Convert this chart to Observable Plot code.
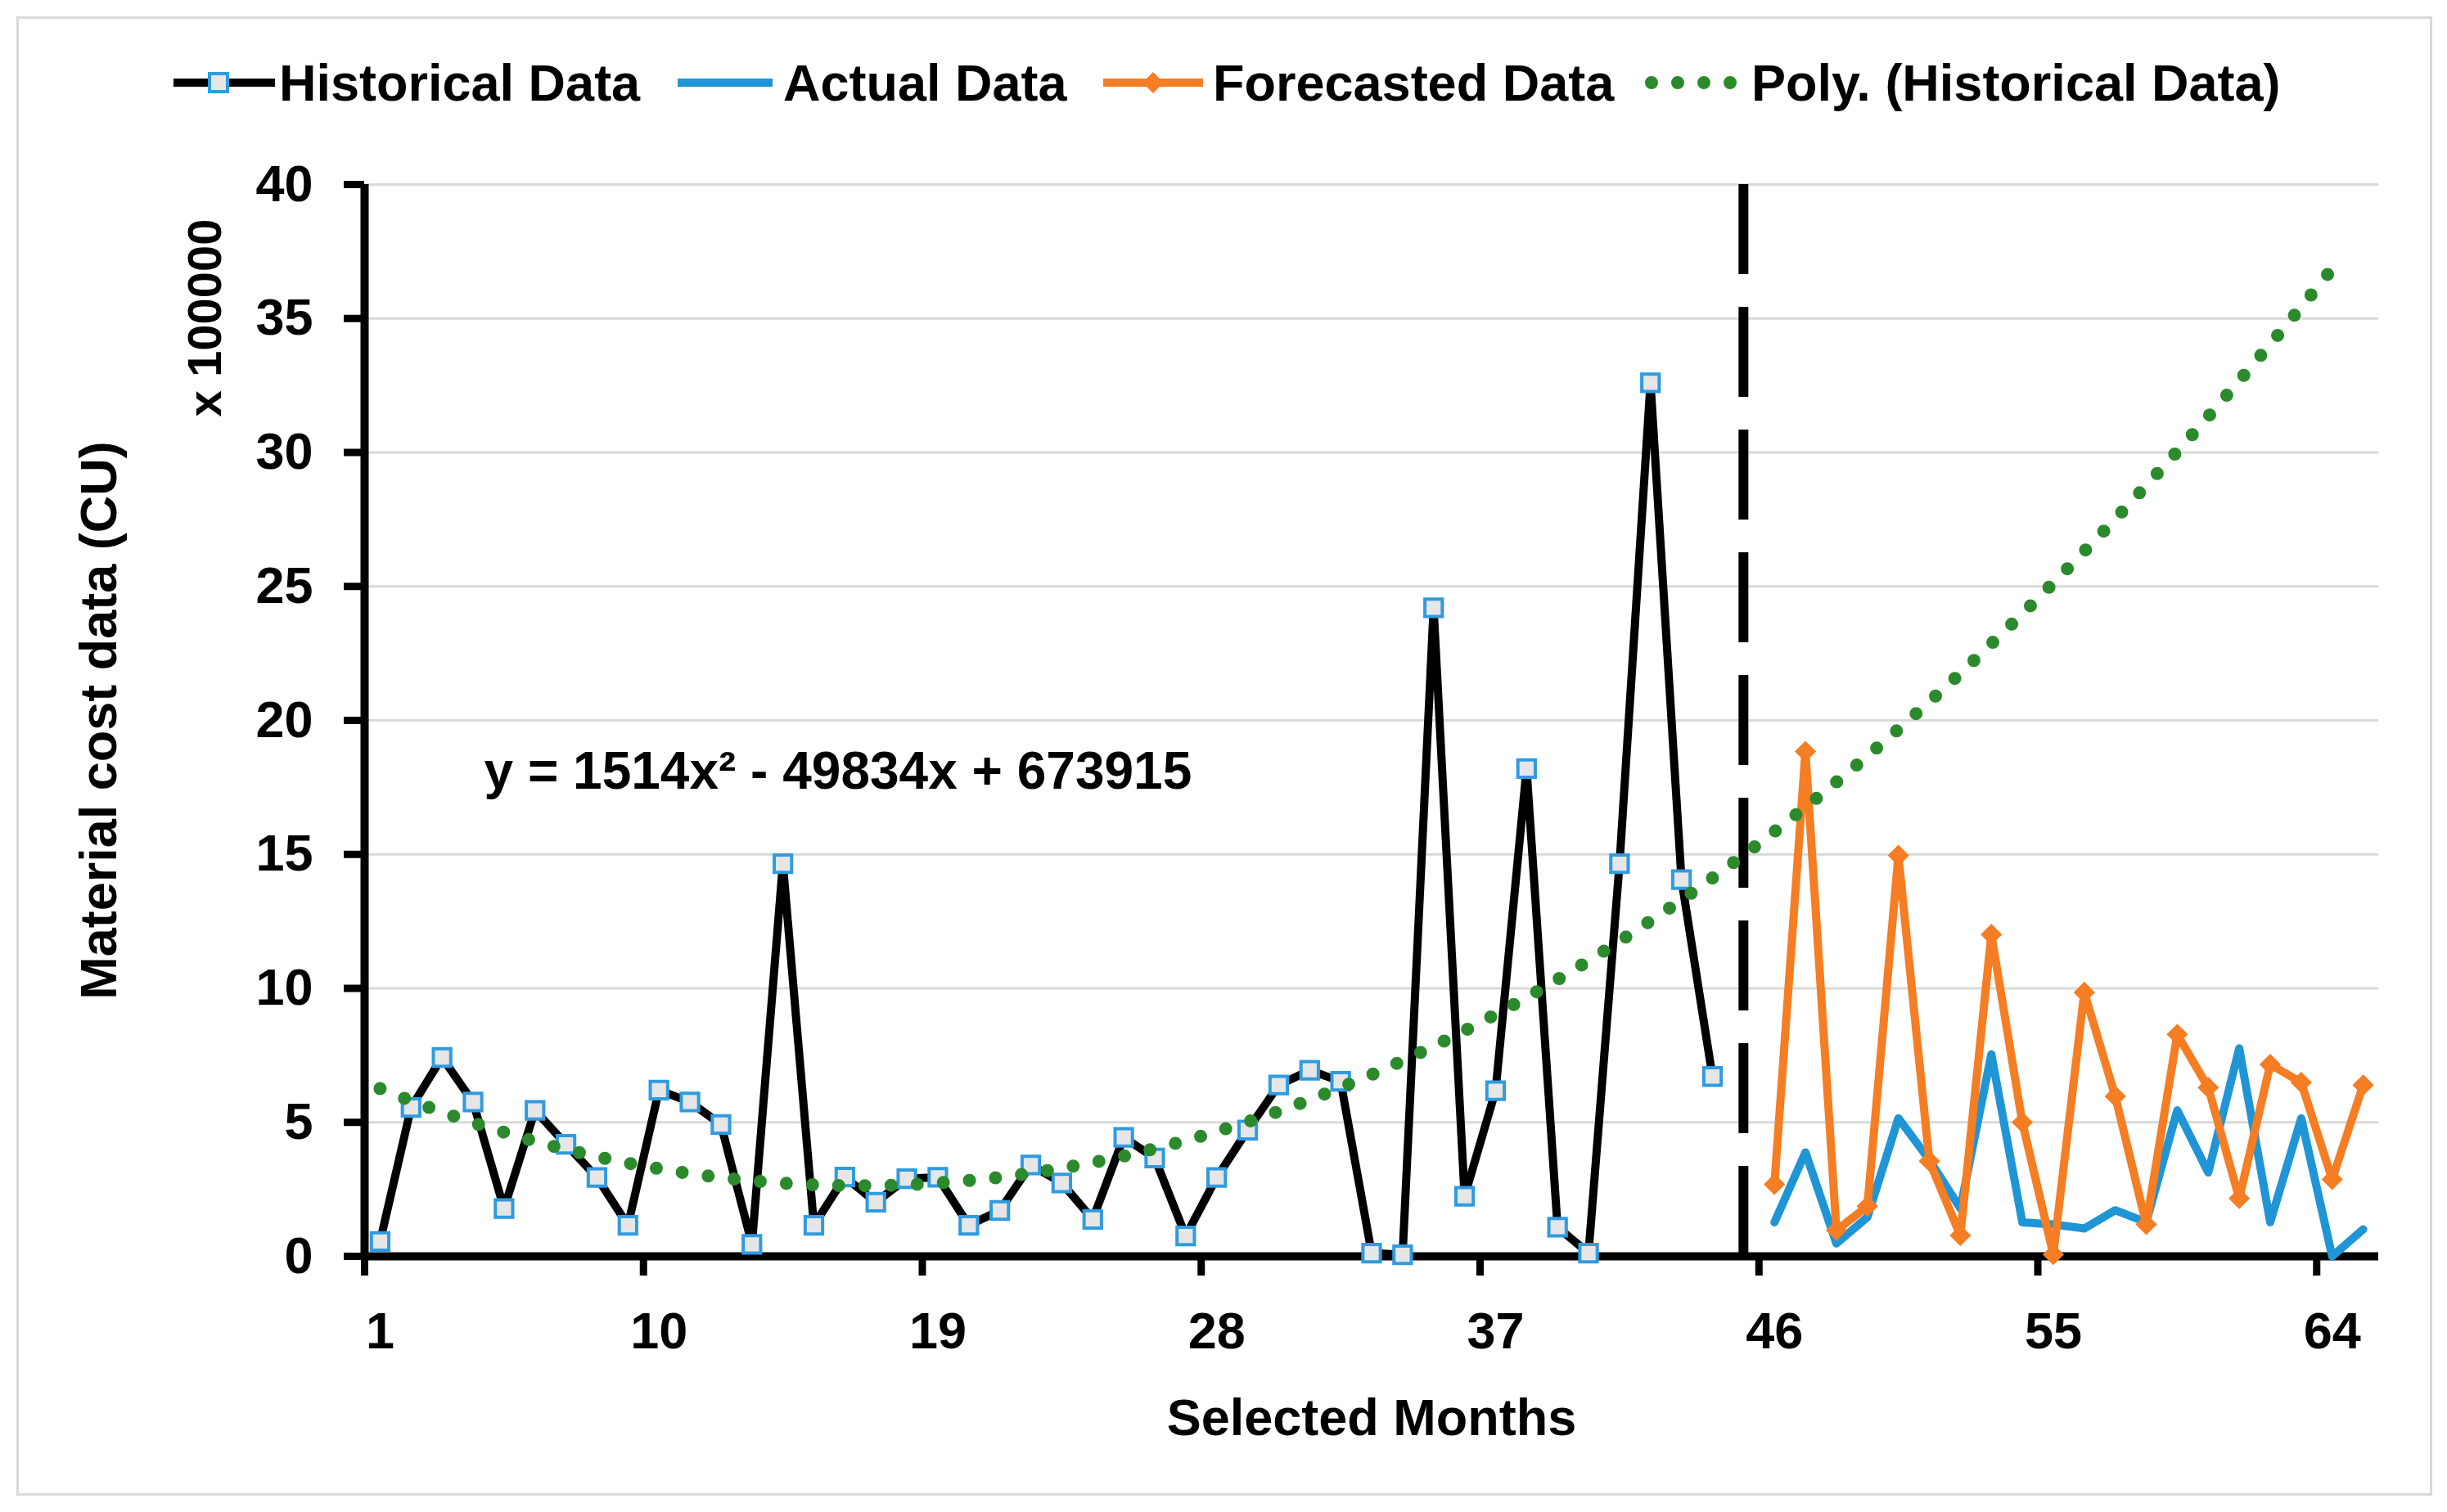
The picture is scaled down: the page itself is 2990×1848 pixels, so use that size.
<!DOCTYPE html>
<html>
<head>
<meta charset="utf-8">
<script src="https://cdn.jsdelivr.net/npm/d3@7"></script>
<script src="https://cdn.jsdelivr.net/npm/@observablehq/plot@0.6"></script>
<style>
  html, body { margin: 0; padding: 0; background: #fff; }
  #wrap { position: relative; width: 2990px; height: 1848px; overflow: hidden; background: #fff;
          font-family: "Liberation Sans", Arial, sans-serif; font-weight: bold; color: #000; }
  #frame { position: absolute; left: 20px; top: 20px; width: 2952px; height: 1808px;
           box-sizing: border-box; border: 3px solid #d9d9d9; }
  .leg { position: absolute; top: 61px; height: 80px; display: flex; align-items: center;
         font-size: 63px; line-height: 80px; white-space: nowrap; }
  .leg svg { display: block; }
  #plot { position: absolute; left: 0; top: 150px; }
</style>
</head>
<body>
<div id="wrap">
  <div id="frame"></div>
  <div id="legend"></div>
  <div id="plot"></div>
</div>
<script>
// ---- data ----
const historicalMonths = d3.range(1, 45);
const historicalValues = [0.55, 5.55, 7.42, 5.76, 1.78, 5.45, 4.18, 2.94, 1.16, 6.2,
  5.76, 4.92, 0.45, 14.65, 1.16, 2.96, 2.02, 2.9, 2.95, 1.16,
  1.71, 3.41, 2.74, 1.38, 4.44, 3.67, 0.76, 2.94, 4.71, 6.39,
  6.94, 6.53, 0.12, 0.06, 24.2, 2.24, 6.18, 18.2, 1.09, 0.12,
  14.65, 32.6, 14.06, 6.71];
const futureMonths = d3.range(46, 66);
const actualValues = [1.27, 3.88, 0.48, 1.46, 5.15, 3.6, 1.79, 7.54, 1.27, 1.19,
  1.04, 1.72, 1.27, 5.45, 3.13, 7.76, 1.27, 5.15, 0.0, 1.01];
const forecastValues = [2.69, 18.84, 0.97, 1.87, 14.96, 3.55, 0.78, 12.01, 5.0, 0.07,
  9.85, 5.97, 1.19, 8.28, 6.30, 2.16, 7.16, 6.49, 2.87, 6.39];
const trendMonths = d3.range(1, 65);
const trendValues = [6.26, 5.80, 5.38, 4.99, 4.63, 4.29, 3.99, 3.72, 3.48, 3.27,
  3.09, 2.94, 2.82, 2.73, 2.67, 2.64, 2.64, 2.67, 2.74, 2.83,
  2.95, 3.10, 3.29, 3.50, 3.74, 4.02, 4.32, 4.66, 5.02, 5.41,
  5.84, 6.30, 6.78, 7.30, 7.84, 8.42, 9.03, 9.66, 10.33, 11.03,
  11.76, 12.52, 13.30, 14.12, 14.97, 15.85, 16.76, 17.70, 18.67, 19.67,
  20.70, 21.76, 22.86, 23.98, 25.13, 26.31, 27.52, 28.77, 30.04, 31.34,
  32.68, 34.04, 35.43, 36.86];
const splitMonth = [45];
const xTickLabels = [1, 10, 19, 28, 37, 46, 55, 64];
const xTickMarks = [0.5, 9.5, 18.5, 27.5, 36.5, 45.5, 54.5, 63.5];
const yTicks = [0, 5, 10, 15, 20, 25, 30, 35, 40];
const seriesNames = ["Historical Data", "Actual Data", "Forecasted Data", "Poly. (Historical Data)"];
const equationText = "y = 1514x\u00B2 - 49834x + 673915";
const unitText = "x 100000";
const xTitle = "Selected Months";
const yTitle = "Material cost data (CU)";

// ---- styles ----
const BLACK = "#000000", BLUE = "#1f95d6", ORANGE = "#f57d23", GREEN = "#2b8a2b", SQFILL = "#e6e6e6";

const hist = historicalMonths.map((m, i) => ({m, v: historicalValues[i]}));
const actual = futureMonths.map((m, i) => ({m, v: actualValues[i]}));
const forecast = futureMonths.map((m, i) => ({m, v: forecastValues[i]}));
const trend = trendMonths.map((m, i) => ({m, v: trendValues[i]}));

const FS = 63;
const chart = Plot.plot({
  width: 2990,
  height: 1698,
  marginLeft: 445,
  marginRight: 84,
  marginTop: 75,
  marginBottom: 313,
  style: {background: "transparent", fontFamily: "'Liberation Sans', Arial, sans-serif", fontSize: FS + "px", fontWeight: "bold", color: "#000", overflow: "visible"},
  x: {domain: [0.5, 65.5]},
  y: {domain: [0, 40]},
  marks: [
    Plot.gridY(yTicks.filter(d => d > 0), {stroke: "#d9d9d9", strokeOpacity: 1, strokeWidth: 3}),
    Plot.axisY({ticks: yTicks, tickSize: 25, tickPadding: 38, strokeWidth: 9, fontSize: FS, fontWeight: "bold",
      label: yTitle, labelAnchor: "center", labelOffset: 348, labelArrow: "none"}),
    Plot.axisX({ticks: xTickMarks, tickSize: 24, strokeWidth: 9, tickFormat: () => "", label: null}),
    Plot.axisX({ticks: xTickLabels, tickSize: 0, tickPadding: 68, fontSize: FS, fontWeight: "bold",
      label: xTitle, labelAnchor: "center", labelOffset: 218, labelArrow: "none"}),
    Plot.ruleY([0], {stroke: BLACK, strokeWidth: 10}),
    Plot.ruleX([0.5], {y1: 0, y2: 40, stroke: BLACK, strokeWidth: 10}),
    Plot.ruleX(splitMonth, {y1: 40, y2: 0, stroke: BLACK, strokeWidth: 12, strokeDasharray: "110 40"}),
    Plot.line(actual, {x: "m", y: "v", stroke: BLUE, strokeWidth: 10, strokeLinejoin: "round"}),
    Plot.line(forecast, {x: "m", y: "v", stroke: ORANGE, strokeWidth: 10, strokeLinejoin: "round"}),
    Plot.dot(forecast, {x: "m", y: "v", symbol: "diamond2", r: 10.5, fill: ORANGE, stroke: ORANGE, strokeWidth: 2}),
    Plot.line(hist, {x: "m", y: "v", stroke: BLACK, strokeWidth: 10, strokeLinejoin: "round"}),
    Plot.dot(hist, {x: "m", y: "v", symbol: "square", r: 12, fill: SQFILL, stroke: "#2f9be0", strokeWidth: 4}),
    Plot.line(trend, {x: "m", y: "v", stroke: GREEN, strokeWidth: 16, strokeDasharray: "0 32", strokeLinecap: "round", curve: "catmull-rom"}),
    Plot.text([equationText], {frameAnchor: "top-left", dx: 146, dy: 738, textAnchor: "start", lineAnchor: "bottom", fontSize: 64, fontWeight: "bold", fill: BLACK}),
    Plot.text([unitText], {frameAnchor: "top-left", rotate: -90, textAnchor: "end", lineAnchor: "middle", dx: -194, dy: 42, fontSize: 58, fontWeight: "bold", fill: BLACK})
  ]
});
document.getElementById("plot").appendChild(chart);

// ---- legend (HTML) ----
const legend = document.getElementById("legend");
const legendLeft = [212, 828, 1348, 2010];
const swatchW = [124, 116, 122, 112];
const swatchGap = [5, 13, 12, 18];
const ns = "http://www.w3.org/2000/svg";
function swatch(i) {
  const w = swatchW[i];
  const s = document.createElementNS(ns, "svg");
  s.setAttribute("width", w); s.setAttribute("height", 40);
  const line = document.createElementNS(ns, "line");
  line.setAttribute("x1", i === 3 ? 8 : 0); line.setAttribute("x2", w); line.setAttribute("y1", 20); line.setAttribute("y2", 20);
  if (i === 0) { line.setAttribute("stroke", BLACK); line.setAttribute("stroke-width", 10); }
  if (i === 1) { line.setAttribute("stroke", BLUE); line.setAttribute("stroke-width", 10); line.setAttribute("stroke-linecap", "round"); }
  if (i === 2) { line.setAttribute("stroke", ORANGE); line.setAttribute("stroke-width", 10); }
  if (i === 3) { line.setAttribute("stroke", GREEN); line.setAttribute("stroke-width", 16); line.setAttribute("stroke-dasharray", "0 32"); line.setAttribute("stroke-linecap", "round"); }
  s.appendChild(line);
  if (i === 0) {
    const r = document.createElementNS(ns, "rect");
    r.setAttribute("x", 44); r.setAttribute("y", 9); r.setAttribute("width", 22); r.setAttribute("height", 22);
    r.setAttribute("fill", SQFILL); r.setAttribute("stroke", "#2f9be0"); r.setAttribute("stroke-width", 4);
    s.appendChild(r);
  }
  if (i === 2) {
    const p = document.createElementNS(ns, "path");
    p.setAttribute("d", "M61,7 L74,20 L61,33 L48,20 Z");
    p.setAttribute("fill", ORANGE);
    s.appendChild(p);
  }
  return s;
}
seriesNames.forEach((name, i) => {
  const item = document.createElement("div");
  item.className = "leg";
  item.style.left = legendLeft[i] + "px";
  const sw = swatch(i);
  sw.style.marginRight = swatchGap[i] + "px";
  item.appendChild(sw);
  const t = document.createElement("span");
  t.textContent = name;
  item.appendChild(t);
  legend.appendChild(item);
});
</script>
</body>
</html>
